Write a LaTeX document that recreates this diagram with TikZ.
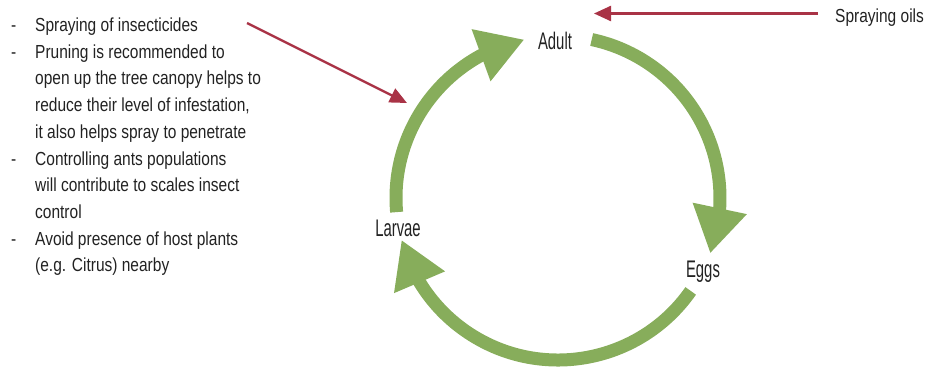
\documentclass[tikz,border=0pt]{standalone}
\usepackage{fontspec}
\setmainfont{Liberation Sans}
\newfontfamily\bodyf[FakeStretch=0.82]{Liberation Sans}
\newfontfamily\labf[FakeStretch=0.62]{Liberation Sans}
\usetikzlibrary{arrows.meta,bending,calc}
\definecolor{leaf}{HTML}{87AD5B}
\definecolor{crim}{HTML}{A93346}
\definecolor{ink}{HTML}{222222}
\tikzset{
  cyclearc/.style={draw=leaf,line width=13pt,-{Triangle[length=46pt,width=52pt,flex]}},
  pointer/.style={draw=crim,line width=2.4pt,-{Triangle[length=17pt,width=15pt]}},
  bodytext/.style={inner sep=0pt,anchor=base west,text=ink,font={\bodyf\fontsize{18.9}{22}\selectfont}},
  stagetext/.style={inner sep=0pt,text=ink,font={\labf\fontsize{24}{28}\selectfont}}
}
\begin{document}
\begin{tikzpicture}[x=1pt,y=1pt]
\useasboundingbox (0,0) rectangle (927,368);
% stage labels
\node[stagetext] (adult) at (555,327) {Adult};
\node[stagetext] (larvae) at (398,140) {Larvae};
\node[stagetext] (eggs) at (703,96) {Eggs};
\coordinate (c) at (558,170);
% cycle arcs
\draw[cyclearc] ($(c)+(78:162)$) arc[start angle=78,end angle=-20,radius=162];
\draw[cyclearc] ($(c)+(-35:162)$) arc[start angle=-35,end angle=-165,radius=162];
\draw[cyclearc] ($(c)+(185:162)$) arc[start angle=185,end angle=102,radius=162];
% notes
\foreach \t [count=\i] in {Spraying of insecticides,
  Pruning is recommended to,
  open up the tree canopy helps to,
  {reduce their level of infestation,},
  it also helps spray to penetrate,
  Controlling ants populations,
  will contribute to scales insect,
  control,
  Avoid presence of host plants,
  (e.g. Citrus) nearby}
  \node[bodytext] (line\i) at (35,{368-31.5-26.7*(\i-1)}) {\t};
\foreach \i in {1,2,6,9}
  \node[bodytext] (dash\i) at (11,{368-31.5-26.7*(\i-1)}) {-};
\node[bodytext] (oils) at (835,{368-22}) {Spraying oils};
% control pointers
\coordinate (p1s) at (247,345);
\coordinate (p1e) at (407,265);
\coordinate (p2e) at (594,354.5);
\draw[pointer] (p1s) -- (p1e);
\draw[pointer] ([xshift=-17pt]p2e -| oils.west) -- (p2e);
\end{tikzpicture}
\end{document}
